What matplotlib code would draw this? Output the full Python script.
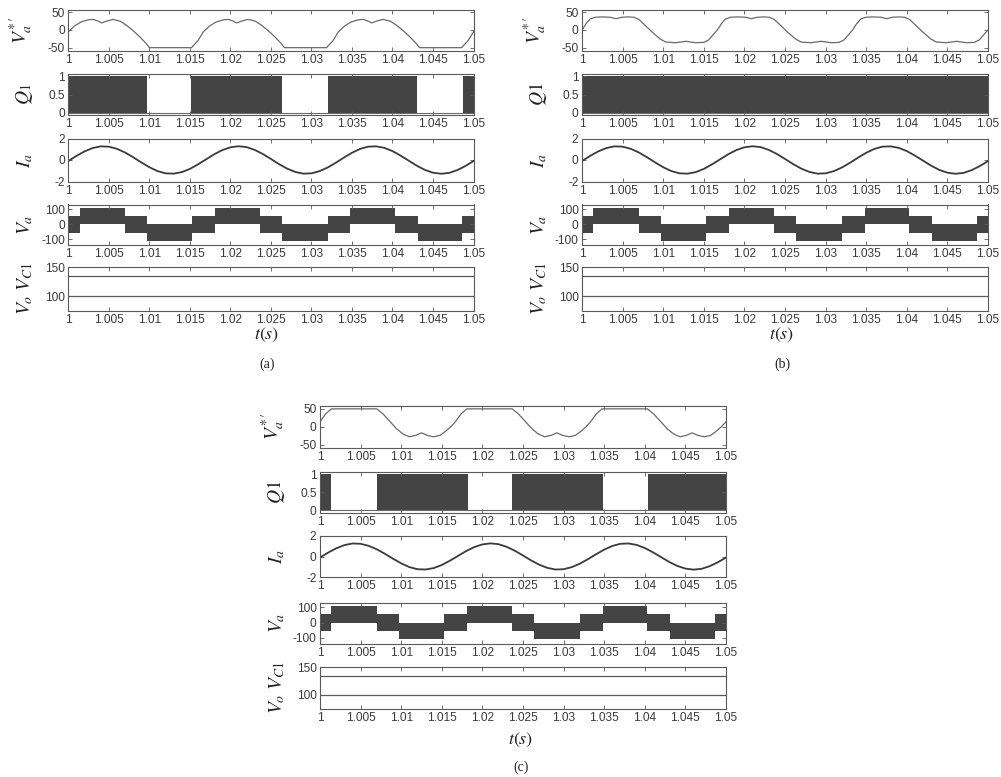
import matplotlib
matplotlib.use("Agg")
import matplotlib.pyplot as plt

plt.rcParams["font.family"] = ["Liberation Sans", "DejaVu Sans"]
plt.rcParams["mathtext.fontset"] = "stix"
plt.rcParams["axes.unicode_minus"] = False

# ---------------- data ----------------
x_ticks = [1.0, 1.005, 1.01, 1.015, 1.02, 1.025, 1.03, 1.035, 1.04, 1.045, 1.05]
x_tick_labels = ["1", "1.005", "1.01", "1.015", "1.02", "1.025", "1.03",
                 "1.035", "1.04", "1.045", "1.05"]

# V*a' reference, case (a)
vref_a_t = [1.0000, 1.0008, 1.0016, 1.0025, 1.0031, 1.0037, 1.0041, 1.0047, 1.0055,
            1.0064, 1.0072, 1.0080, 1.0088, 1.0096, 1.0100, 1.0152, 1.0160,
            1.01667, 1.01747, 1.01827, 1.01917, 1.01977, 1.02037, 1.02077, 1.02137,
            1.02217, 1.02307, 1.02387, 1.02467, 1.02547, 1.02627, 1.02667, 1.03187,
            1.03267,
            1.03333, 1.03413, 1.03493, 1.03583, 1.03643, 1.03703, 1.03743, 1.03803,
            1.03883, 1.03973, 1.04053, 1.04133, 1.04213, 1.04293, 1.04333, 1.04853,
            1.04933, 1.05]
vref_a_v = [-5, 12, 23, 29, 30, 25, 20, 25, 30, 25, 13, -2, -19, -38, -50, -50, -30,
            -5, 12, 23, 29, 30, 25, 20, 25, 30, 25, 13, -2, -19, -38, -50, -50, -30,
            -5, 12, 23, 29, 30, 25, 20, 25, 30, 25, 13, -2, -19, -38, -50, -50, -30,
            -5]

# V*a' reference, case (b)
vref_b_t = [1.0000, 1.0005, 1.0010, 1.0016, 1.0025, 1.0035, 1.0042, 1.0049, 1.0057,
            1.0064, 1.0070, 1.0077, 1.0086, 1.0096, 1.0103, 1.0115, 1.0128, 1.0140,
            1.0150, 1.0156, 1.0162,
            1.01667, 1.01717, 1.01767, 1.01827, 1.01917, 1.02017, 1.02087, 1.02157,
            1.02237, 1.02307, 1.02367, 1.02437, 1.02527, 1.02627, 1.02697, 1.02817,
            1.02947, 1.03067, 1.03167, 1.03227, 1.03287,
            1.03333, 1.03383, 1.03433, 1.03493, 1.03583, 1.03683, 1.03753, 1.03823,
            1.03903, 1.03973, 1.04033, 1.04103, 1.04193, 1.04293, 1.04363, 1.04483,
            1.04613, 1.04733, 1.04833, 1.04893, 1.04953, 1.05]
vref_b_v = [0, 18, 31, 36, 37, 36, 32, 36, 37, 36, 30, 15, -5, -25, -34, -36, -32, -36,
            -35, -28, -12,
            0, 18, 31, 36, 37, 36, 32, 36, 37, 36, 30, 15, -5, -25, -34, -36, -32, -36,
            -35, -28, -12,
            0, 18, 31, 36, 37, 36, 32, 36, 37, 36, 30, 15, -5, -25, -34, -36, -32, -36,
            -35, -28, -12, 0]

# V*a' reference, case (c)
vref_c_t = [1.0000, 1.0007, 1.0014, 1.0070, 1.0078, 1.0086, 1.0094, 1.0102, 1.0110,
            1.0118, 1.0125, 1.0132, 1.0140, 1.0148, 1.0155, 1.0161,
            1.01667, 1.01737, 1.01807, 1.02367, 1.02447, 1.02527, 1.02607, 1.02687,
            1.02767, 1.02847, 1.02917, 1.02987, 1.03067, 1.03147, 1.03217, 1.03277,
            1.03333, 1.03403, 1.03473, 1.04033, 1.04113, 1.04193, 1.04273, 1.04353,
            1.04433, 1.04513, 1.04583, 1.04653, 1.04733, 1.04813, 1.04883, 1.04943,
            1.05]
vref_c_v = [14, 36, 50, 50, 35, 15, -5, -20, -28, -24, -17, -24, -28, -24, -12, 0,
            14, 36, 50, 50, 35, 15, -5, -20, -28, -24, -17, -24, -28, -24, -12, 0,
            14, 36, 50, 50, 35, 15, -5, -20, -28, -24, -17, -24, -28, -24, -12, 0,
            14]

# Switching signal Q1 (step edges / levels)
q1_a_t = [1.0, 1.0097, 1.0152, 1.0264, 1.0320, 1.0430, 1.0487, 1.05]
q1_a_v = [1, 0, 1, 0, 1, 0, 1, 1]
q1_b_t = [1.0, 1.05]
q1_b_v = [1, 1]
q1_c_t = [1.0, 1.0014, 1.0070, 1.0182, 1.0237, 1.0348, 1.0404, 1.05]
q1_c_v = [1, 0, 1, 0, 1, 0, 1, 1]

# Phase current Ia (sampled every 1 ms)
ia_t = [1.000, 1.001, 1.002, 1.003, 1.004, 1.005, 1.006, 1.007, 1.008, 1.009,
        1.010, 1.011, 1.012, 1.013, 1.014, 1.015, 1.016, 1.017, 1.018, 1.019,
        1.020, 1.021, 1.022, 1.023, 1.024, 1.025, 1.026, 1.027, 1.028, 1.029,
        1.030, 1.031, 1.032, 1.033, 1.034, 1.035, 1.036, 1.037, 1.038, 1.039,
        1.040, 1.041, 1.042, 1.043, 1.044, 1.045, 1.046, 1.047, 1.048, 1.049, 1.050]
ia_v = [-0.10, 0.38, 0.80, 1.11, 1.27, 1.24, 1.04, 0.70, 0.26, -0.22,
        -0.67, -1.03, -1.24, -1.27, -1.13, -0.83, -0.41, 0.06, 0.53, 0.92,
        1.18, 1.28, 1.20, 0.94, 0.56, 0.10, -0.38, -0.80, -1.11, -1.27,
        -1.24, -1.04, -0.70, -0.26, 0.22, 0.67, 1.03, 1.24, 1.27, 1.13,
        0.83, 0.41, -0.06, -0.53, -0.92, -1.18, -1.28, -1.20, -0.94, -0.56, -0.10]

# Phase voltage Va band (switching between levels), step edges
va_t = [1.0, 1.0014, 1.0070, 1.0097, 1.0153, 1.0181, 1.0236, 1.0264, 1.0320,
        1.0348, 1.0403, 1.0431, 1.0486, 1.05]
va_upper = [57, 110, 57, 0, 57, 110, 57, 0, 57, 110, 57, 0, 57, 57]
va_lower = [-57, 0, -57, -110, -57, 0, -57, -110, -57, 0, -57, -110, -57, -57]

# DC voltages
vdc_t = [1.0, 1.05]
vo_v = [134, 134]
vc1_v = [100, 100]

# ---------------- layout ----------------
W, H = 1001, 777
fig = plt.figure(figsize=(W / 100, H / 100), dpi=100)

SPINE = "#5a5a5a"
TXT = "#3a3a3a"
FILL = "#444444"


def rect(l, r, t, b):
    return [l / W, 1 - b / H, (r - l) / W, (b - t) / H]


rows_ab = [(9.5, 50.5), (74, 115), (138.5, 181.5), (204.5, 245), (267, 311)]
rows_c = [(406, 447.5), (472, 512.5), (536, 577), (602.5, 644), (667, 708.5)]

groups = [
    dict(l=68.3, r=473.5, rows=rows_ab, vt=vref_a_t, vv=vref_a_v, qt=q1_a_t, qv=q1_a_v,
         qlab=r"$Q_{\mathit{1}}$", tx=267, ty=335, cap="(a)", cy=364),
    dict(l=582, r=988, rows=rows_ab, vt=vref_b_t, vv=vref_b_v, qt=q1_b_t, qv=q1_b_v,
         qlab=r"$Q\mathit{1}$", tx=782, ty=335, cap="(b)", cy=364),
    dict(l=320, r=726, rows=rows_c, vt=vref_c_t, vv=vref_c_v, qt=q1_c_t, qv=q1_c_v,
         qlab=r"$Q\mathit{1}$", tx=521, ty=740, cap="(c)", cy=767),
]


def style(ax, yticks, ylabels, ylim):
    ax.set_xlim(1.0, 1.05)
    ax.set_ylim(*ylim)
    ax.set_xticks(x_ticks)
    ax.set_xticklabels(x_tick_labels)
    ax.set_yticks(yticks)
    ax.set_yticklabels(ylabels)
    ax.tick_params(direction="in", length=3, width=0.6, top=True, right=True,
                   labelsize=8.6, colors=SPINE, labelcolor=TXT, pad=2.5)
    for s in ax.spines.values():
        s.set_color(SPINE)
        s.set_linewidth(0.8)


def ylab(ax, text, x=-0.082):
    ax.set_ylabel(text, fontsize=14, color="#222222")
    ax.yaxis.set_label_coords(x, 0.5)


for g in groups:
    rows = g["rows"]
    axs = [fig.add_axes(rect(g["l"], g["r"], t, b)) for (t, b) in rows]

    # 1) reference voltage
    ax = axs[0]
    ax.plot(g["vt"], g["vv"], color="#6a6a6a", lw=0.9)
    style(ax, [-50, 0, 50], ["-50", "0", "50"], (-58, 58))
    ylab(ax, r"$V^{*\,\prime}_{a}$")

    # 2) Q1 switching
    ax = axs[1]
    ax.fill_between(g["qt"], 0, g["qv"], step="post", color=FILL, lw=0)
    ax.plot([1.0, 1.05], [0, 0], color="#6a6a6a", lw=0.8)
    style(ax, [0, 0.5, 1], ["0", "0.5", "1"], (-0.06, 1.06))
    ylab(ax, g["qlab"])

    # 3) current
    ax = axs[2]
    ax.plot(ia_t, ia_v, color="#3a3a3a", lw=1.3)
    style(ax, [-2, 0, 2], ["-2", "0", "2"], (-2, 2))
    ylab(ax, r"$I_a$")

    # 4) phase voltage
    ax = axs[3]
    ax.fill_between(va_t, va_lower, va_upper, step="post", color=FILL, lw=0)
    style(ax, [-100, 0, 100], ["-100", "0", "100"], (-140, 132))
    ylab(ax, r"$V_a$")

    # 5) DC voltages
    ax = axs[4]
    ax.plot(vdc_t, vo_v, color="#5a5a5a", lw=0.9)
    ax.plot(vdc_t, vc1_v, color="#5a5a5a", lw=0.9)
    style(ax, [100, 150], ["100", "150"], (75, 150))
    ylab(ax, r"$V_o\ V_{C\mathit{1}}$")

    fig.text(g["tx"] / W, 1 - g["ty"] / H, r"$t(s)$", fontsize=13, ha="center",
             va="center", color="#222222")
    fig.text(g["tx"] / W, 1 - g["cy"] / H, g["cap"], fontsize=10, ha="center",
             va="center", family="Liberation Serif", color="#222222")

fig.savefig("out.png", dpi=100)
